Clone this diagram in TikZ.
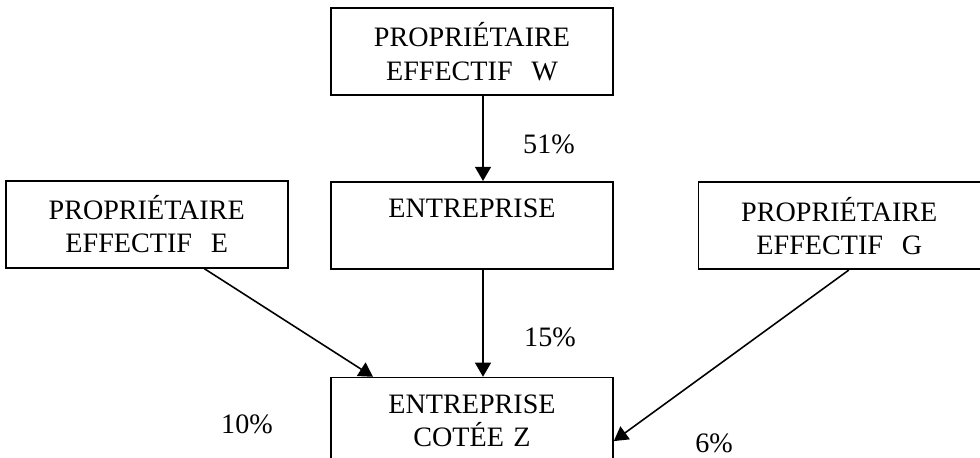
\documentclass[tikz,border=0pt]{standalone}
\usepackage{fontspec}
\setmainfont{Liberation Serif}
\usetikzlibrary{arrows.meta}
\tikzstyle{holder} = [draw, line width=0.9pt, text width=5.4cm, align=center, minimum width=5.64cm, minimum height=1.74cm, inner sep=0pt, font=\fontsize{16}{19}\selectfont]
\tikzstyle{line} = [draw, line width=0.9pt, -{Triangle[length=8pt,width=9pt]}]
\tikzstyle{pct} = [font=\fontsize{16}{19}\selectfont, inner sep=0pt]
\newcommand{\holder}[2]{
node (#1) [holder] {#2}}
\newcommand{\stake}[2]{
  \path [line] (#1) -- (#2);}

\begin{document}
\begin{tikzpicture}

		\useasboundingbox (0,0) rectangle (19.6,-9.16);

		% Draw diagram elements
		\path (9.44,-1.03) \holder{w}{PROPRIÉTAIRE\\EFFECTIF\ \ W};
		\path (w.south)+(0.0, -2.59) \holder{ent}{ENTREPRISE\\\mbox{}};
		\path (ent.west)+(-3.67, 0.02) \holder{e}{PROPRIÉTAIRE\\EFFECTIF\ \ E};
		\path (ent.east)+(4.51, -0.01) \holder{g}{PROPRIÉTAIRE\\EFFECTIF\ \ G};
		\path (ent.south)+(0.0, -3.03) \holder{z}{ENTREPRISE\\COTÉE Z};

		% Draw percentages
		\node (p51) [pct] at (10.98,-2.88) {51\%};
		\node (p15) [pct] at (11.0,-6.74) {15\%};
		\node (p10) [pct] at (4.94,-8.48) {10\%};
		\node (p6) [pct] at (14.28,-8.86) {6\%};

		% Draw arrows between elements
		\stake{[xshift=0.22cm]w.south}{[xshift=0.22cm]ent.north}
		\stake{[xshift=0.22cm]ent.south}{[xshift=0.22cm]z.north}
		\stake{[xshift=1.15cm]e.south}{[xshift=-1.98cm]z.north}
		\stake{[xshift=0.19cm]g.south}{[yshift=-0.4cm]z.east}

	\end{tikzpicture}
\end{document}
